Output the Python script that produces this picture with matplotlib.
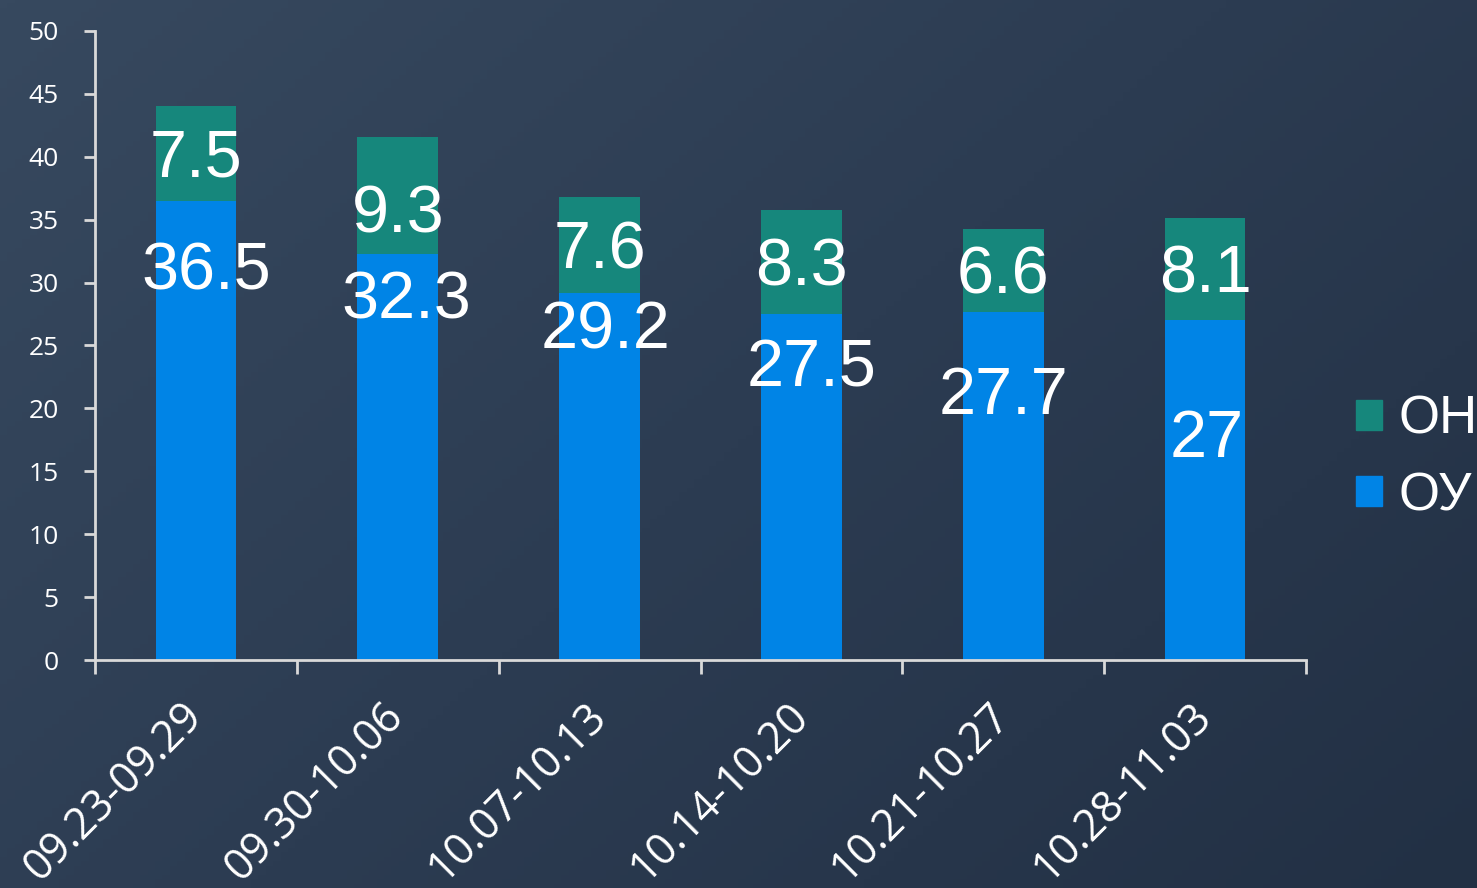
import numpy as np
import matplotlib
matplotlib.use("Agg")
import matplotlib.pyplot as plt
from matplotlib.colors import LinearSegmentedColormap
from matplotlib.patches import Patch

categories = ["09.23-09.29", "09.30-10.06", "10.07-10.13", "10.14-10.20", "10.21-10.27", "10.28-11.03"]
oy_values = [36.5, 32.3, 29.2, 27.5, 27.7, 27]
oh_values = [7.5, 9.3, 7.6, 8.3, 6.6, 8.1]
series_names = ["ОН", "ОУ"]

# label layout (vertical placement of the labels, in data units)
oy_label_y = [30.8, 28.5, 26.1, 23.1, 20.9, 17.5]
oy_label_dx = [0.05, 0.04, 0.03, 0.05, 0.0, 0.01]
oh_label_dy = [-0.5, -1.6, -0.5, -0.5, -0.5, -0.5]

BLUE = "#0084E6"
TEAL = "#16877C"
AXC = "#D9D9D9"

fig = plt.figure(figsize=(14.77, 8.88), dpi=100)

# gradient background
bg = fig.add_axes([0, 0, 1, 1], zorder=-10)
cmap = LinearSegmentedColormap.from_list("bg", ["#37495F", "#2C3C52", "#223044"])
yy, xx = np.mgrid[0:1:200j, 0:1:200j]
grad = (xx * 0.6 + yy * 0.4)
bg.imshow(grad, cmap=cmap, aspect="auto", extent=[0, 1, 0, 1], origin="upper")
bg.axis("off")

ax = fig.add_axes([95 / 1477, 1 - 660 / 888, (1306 - 95) / 1477, (660 - 31) / 888])
ax.set_facecolor("none")

x = np.arange(len(categories))
w = 0.4
ax.bar(x, oy_values, width=w, color=BLUE, label=series_names[1], zorder=2)
ax.bar(x, oh_values, width=w, bottom=oy_values, color=TEAL, label=series_names[0], zorder=2)

vfont = dict(family="Liberation Sans", fontsize=48, color="white", ha="center", va="center", zorder=5)
for i in range(len(categories)):
    ax.text(x[i], oy_values[i] + oh_values[i] / 2 + oh_label_dy[i], f"{oh_values[i]:g}", **vfont)
    ax.text(x[i] + oy_label_dx[i], oy_label_y[i], f"{oy_values[i]:g}", **vfont)

ax.set_xlim(-0.5, len(categories) - 0.5)
ax.set_ylim(0, 50)
ax.set_yticks(np.arange(0, 51, 5))
ax.set_xticks(np.arange(-0.5, len(categories), 1.0))
ax.set_xticklabels([])
ax.set_xticks(x, minor=True)
ax.set_xticklabels(categories, minor=True, rotation=45, ha="right", va="center",
                   rotation_mode="anchor", fontsize=31, color="white", family="Open Sans")
ax.tick_params(axis="x", which="minor", length=0, pad=36)
ax.tick_params(axis="x", which="major", length=10, width=2, color=AXC, direction="out")
ax.tick_params(axis="y", length=8, width=2, color=AXC, labelsize=19, labelcolor="white", pad=18)
for lab in ax.get_yticklabels():
    lab.set_family("Open Sans")

for s in ["top", "right"]:
    ax.spines[s].set_visible(False)
for s in ["left", "bottom"]:
    ax.spines[s].set_color(AXC)
    ax.spines[s].set_linewidth(2)

handles = [Patch(color=TEAL, label=series_names[0]), Patch(color=BLUE, label=series_names[1])]
leg = fig.legend(handles=handles, loc="center left", bbox_to_anchor=(1356 / 1477, 1 - 458 / 888),
                 frameon=False, prop=dict(family="Liberation Sans", size=38),
                 handlelength=0.5, handleheight=0.5, handletextpad=0.3, labelspacing=0.5,
                 borderaxespad=0, borderpad=0)
for t in leg.get_texts():
    t.set_color("white")

fig.savefig("out.png", dpi=100)
